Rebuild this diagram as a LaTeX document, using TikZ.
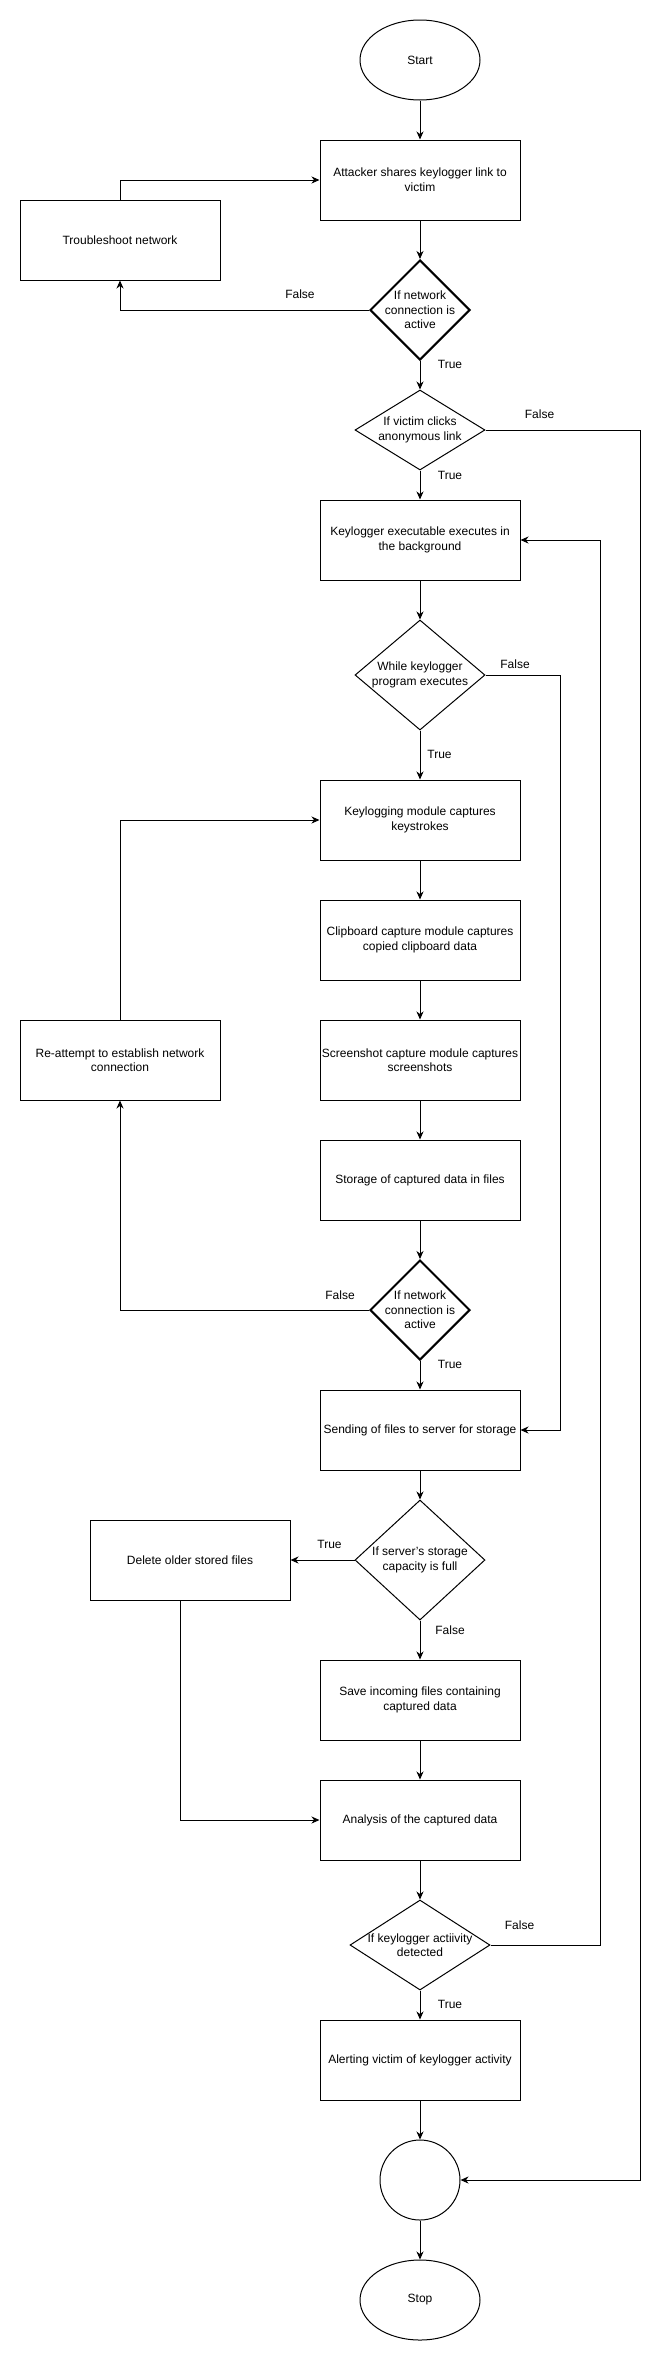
\documentclass[tikz,border=0pt]{standalone}
\usepackage{fontspec}
\setmainfont{Liberation Sans}
\usetikzlibrary{shapes.geometric,arrows.meta}
\begin{document}
\begin{tikzpicture}[x=1pt,y=-1pt,
  font=\fontsize{12}{14.6}\selectfont,
  box/.style={draw,line width=1pt,rectangle,minimum width=200pt,minimum height=80pt,inner sep=0pt,align=center},
  dia/.style={draw,line width=1pt,diamond,inner sep=0pt},
  thickdia/.style={dia,line width=2pt},
  term/.style={draw,line width=1pt,ellipse,inner sep=0pt,minimum width=120pt,minimum height=80pt},
  txt/.style={align=center,inner sep=0pt},
  arr/.style={line width=1pt,-{Stealth[length=8pt,width=7pt,inset=2.5pt]}}
]
\useasboundingbox (0,0) rectangle (669,2361);

% nodes
\node[term] (start) at (420,60) {Start};
\node[box] (attacker) at (420,180) {Attacker shares keylogger link to\\victim};
\node[box] (trouble) at (120,240) {Troubleshoot network};
\node[thickdia,minimum width=100pt,minimum height=100pt] (d1) at (420,310) {};
\node[txt] (d1t) at (d1) {If network\\connection is\\active};
\node[dia,minimum width=130pt,minimum height=80pt] (d2) at (420,430) {};
\node[txt] (d2t) at (d2) {If victim clicks\\anonymous link};
\node[box] (exec) at (420,540) {Keylogger executable executes in\\the background};
\node[dia,minimum width=130pt,minimum height=110pt] (d3) at (420,675) {};
\node[txt] (d3t) at (d3) {While keylogger\\program executes};
\node[box] (keylog) at (420,820) {Keylogging module captures\\keystrokes};
\node[box] (clip) at (420,940) {Clipboard capture module captures\\copied clipboard data};
\node[box] (screen) at (420,1060) {Screenshot capture module captures\\screenshots};
\node[box] (reatt) at (120,1060) {Re-attempt to establish network\\connection};
\node[box] (storage) at (420,1180) {Storage of captured data in files};
\node[thickdia,minimum width=100pt,minimum height=100pt] (d4) at (420,1310) {};
\node[txt] (d4t) at (d4) {If network\\connection is\\active};
\node[box] (send) at (420,1430) {Sending of files to server for storage};
\node[dia,minimum width=130pt,minimum height=120pt] (d5) at (420,1560) {};
\node[txt] (d5t) at (d5) {If server's storage\\capacity is full};
\node[box] (delete) at (190,1560) {Delete older stored files};
\node[box] (save) at (420,1700) {Save incoming files containing\\captured data};
\node[box] (analysis) at (420,1820) {Analysis of the captured data};
\node[dia,minimum width=140pt,minimum height=90pt] (d6) at (420,1945) {};
\node[txt] (d6t) at (d6) {If keylogger actiivity\\detected};
\node[box] (alert) at (420,2060) {Alerting victim of keylogger activity};
\node[term,minimum width=80pt,minimum height=80pt] (merge) at (420,2180) {};
\node[term] (stop) at (420,2300) {Stop};

% routing coordinates
\coordinate (rA) at (640,0);
\coordinate (rB) at (600,0);
\coordinate (rC) at (560,0);

% connectors
\draw[arr] (start) -- (attacker);
\draw[arr] (attacker) -- (d1);
\draw[arr] (d1.west) -| (trouble.south);
\draw[arr] (trouble.north) |- (attacker.west);
\draw[arr] (d1) -- (d2);
\draw[arr] (d2.east) -- (d2.east -| rA) |- (merge.east);
\draw[arr] (d2) -- (exec);
\draw[arr] (exec) -- (d3);
\draw[arr] (d3.east) -- (d3.east -| rC) |- (send.east);
\draw[arr] (d3) -- (keylog);
\draw[arr] (keylog) -- (clip);
\draw[arr] (clip) -- (screen);
\draw[arr] (screen) -- (storage);
\draw[arr] (storage) -- (d4);
\draw[arr] (d4.west) -| (reatt.south);
\draw[arr] (reatt.north) |- (keylog.west);
\draw[arr] (d4) -- (send);
\draw[arr] (send) -- (d5);
\draw[arr] (d5.west) -- (delete.east);
\draw[arr] (d5) -- (save);
\draw[arr] (save) -- (analysis);
\draw[arr] ([xshift=-10pt]delete.south) |- (analysis.west);
\draw[arr] (analysis) -- (d6);
\draw[arr] (d6.east) -- (d6.east -| rB) |- (exec.east);
\draw[arr] (d6) -- (alert);
\draw[arr] (alert) -- (merge);
\draw[arr] (merge) -- (stop);

% labels
\node[txt] (l1) at (300,294.7) {False};
\node[txt] (l2) at (450,364.7) {True};
\node[txt] (l3) at (539.5,414.3) {False};
\node[txt] (l4) at (450,475) {True};
\node[txt] (l5) at (515,664.3) {False};
\node[txt] (l6) at (439.5,754.7) {True};
\node[txt] (l7) at (340,1294.7) {False};
\node[txt] (l8) at (450,1364.7) {True};
\node[txt] (l9) at (329.5,1544.7) {True};
\node[txt] (l10) at (450,1629.7) {False};
\node[txt] (l11) at (519.5,1924.7) {False};
\node[txt] (l12) at (450,2004.7) {True};
\end{tikzpicture}
\end{document}
